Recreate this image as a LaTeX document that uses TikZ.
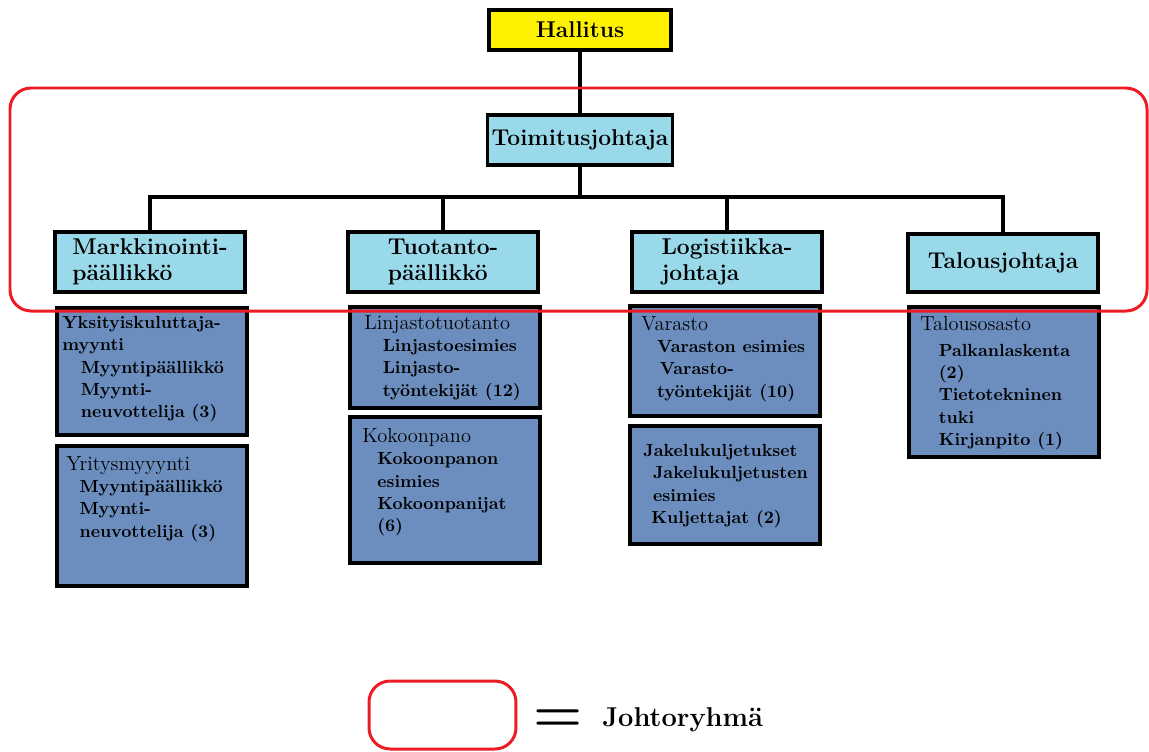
\documentclass[tikz,border=0pt]{standalone}
\usetikzlibrary{positioning}
\definecolor{boardyellow}{HTML}{FFF200}
\definecolor{headblue}{HTML}{99D9EA}
\definecolor{unitblue}{HTML}{6C8EBF}
\definecolor{teamred}{HTML}{ED1C24}
\tikzset{
    head/.style = {draw, line width=2.2pt, fill=headblue, align=left, inner sep=0pt,
        minimum width=3.8cm, minimum height=1.2cm,
        font=\fontsize{13}{15}\selectfont\bfseries},
    unit/.style = {draw, line width=2.2pt, fill=unitblue, anchor=north west,
        minimum width=3.8cm, inner sep=0pt},
    unittext/.style = {anchor=north west, align=left, inner sep=0pt,
        font=\fontsize{10}{12.7}\selectfont\bfseries},
    link/.style = {line width=2.2pt},
    team/.style = {draw=teamred, line width=1.7pt, rounded corners=12pt}}
\newcommand{\ind}{\hspace*{1.05em}}
\newcommand{\lead}[1]{{\fontsize{11.6}{12.7}\selectfont\mdseries #1}}

\begin{document}
\begin{tikzpicture}[x=0.02cm, y=-0.02cm]
    \useasboundingbox (0,0) rectangle (1149,751);
    % top
    \node[head, fill=boardyellow, minimum width=3.64cm, minimum height=0.8cm] (hall) at (580,30) {Hallitus};
    \node[head, minimum width=3.7cm, minimum height=1.0cm] (toim) at (580,140) {Toimitusjohtaja};
    \node[head] (markk) at (150,262) {Markkinointi-\\päällikkö};
    \node[head] (tuot) at (443,262) {Tuotanto-\\päällikkö};
    \node[head] (logi) at (727,262) {Logistiikka-\\johtaja};
    \node[head, minimum height=1.16cm] (talous) at (1003,263) {Talousjohtaja};
    \coordinate (bus) at (580,197);
    \draw[link] (hall) -- (toim);
    \draw[link] (toim) -- (bus);
    \draw[link] (bus) -| (markk);
    \draw[link] (bus) -| (tuot);
    \draw[link] (bus) -| (logi);
    \draw[link] (bus) -| (talous);
    % units
    \node[unit, minimum height=2.54cm] (m1) at (55,306) {};
    \node[unit, minimum height=2.8cm] (m2) at (55,444) {};
    \node[unit, minimum height=2.02cm] (t1) at (348,305) {};
    \node[unit, minimum height=2.92cm] (t2) at (348,415) {};
    \node[unit, minimum height=2.2cm] (l1) at (628,304) {};
    \node[unit, minimum height=2.36cm] (l2) at (628,424) {};
    \node[unit, minimum height=3.0cm] (f1) at (907,305) {};
    \node[unittext] (m1t) at (62,316) {Yksityiskuluttaja-\\myynti\\\ind Myyntipäällikkö\\\ind Myynti-\\\ind neuvottelija (3)};
    \node[unittext] (m2t) at (66,456) {\lead{Yritysmyyynti}\\\hspace*{0.75em}Myyntipäällikkö\\\hspace*{0.75em}Myynti-\\\hspace*{0.75em}neuvottelija (3)};
    \node[unittext] (t1t) at (364,315) {\lead{Linjastotuotanto}\\\ind Linjastoesimies\\\ind Linjasto-\\\ind työntekijät (12)};
    \node[unittext] (t2t) at (362,428) {\lead{Kokoonpano}\\\hspace*{0.85em}Kokoonpanon\\\hspace*{0.85em}esimies\\\hspace*{0.85em}Kokoonpanijat\\\hspace*{0.85em}(6)};
    \node[unittext] (l1t) at (641,316) {\lead{Varasto}\\\hspace*{0.9em}Varaston esimies\\\ind Varasto-\\\hspace*{0.9em}työntekijät (10)};
    \node[unittext] (l2t) at (643,444) {Jakelukuljetukset\\\hspace*{0.55em}Jakelukuljetusten\\\hspace*{0.55em}esimies\\\hspace*{0.45em}Kuljettajat (2)};
    \node[unittext] (f1t) at (920,316) {\lead{Talousosasto}\\[2pt]\ind Palkanlaskenta\\\ind (2)\\\ind Tietotekninen\\\ind tuki\\\ind Kirjanpito (1)};
    % johtoryhma
    \draw[team] (10,88) rectangle (1147,311);
    \node[team, minimum width=2.94cm, minimum height=1.36cm] (legbox) at (442.5,715) {};
    \node (eq) at (558,721) {\fontsize{32}{32}\selectfont\bfseries =};
    \node[anchor=west, inner sep=0pt, font=\fontsize{15.5}{18}\selectfont\bfseries] (legtxt) at (602,720) {Johtoryhmä};
\end{tikzpicture}
\end{document}
